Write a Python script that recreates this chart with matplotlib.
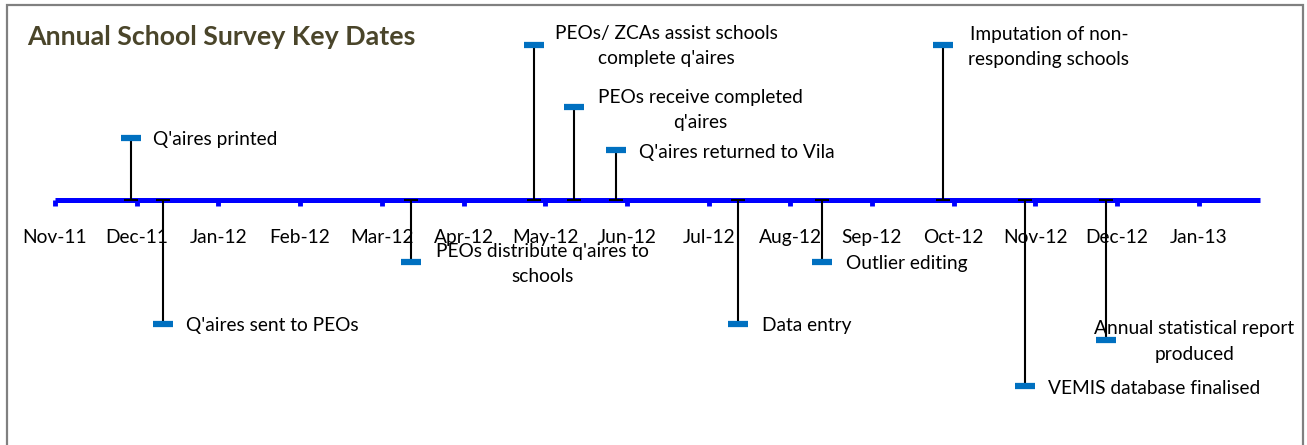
import numpy as np
import matplotlib.pyplot as plt
from matplotlib.patches import Rectangle
import datetime as dt
import calendar

plt.rcParams['font.family'] = ['Lato', 'DejaVu Sans']

# month ticks on the timeline
months = ['Nov-11', 'Dec-11', 'Jan-12', 'Feb-12', 'Mar-12', 'Apr-12', 'May-12',
          'Jun-12', 'Jul-12', 'Aug-12', 'Sep-12', 'Oct-12', 'Nov-12', 'Dec-12', 'Jan-13']

# key events
events = ["Q'aires printed", "Q'aires sent to PEOs", "PEOs distribute q'aires to\nschools",
          "PEOs/ ZCAs assist schools\ncomplete q'aires", "PEOs receive completed\nq'aires",
          "Q'aires returned to Vila", "Data entry", "Outlier editing",
          "Imputation of non-\nresponding schools", "VEMIS database finalised",
          "Annual statistical report\nproduced"]
dates = ['2011-11-29', '2011-12-11', '2012-03-12', '2012-04-27', '2012-05-12',
         '2012-05-28', '2012-07-12', '2012-08-13', '2012-09-27', '2012-10-28', '2012-11-27']
heights = [20, -40, -20, 50, 30, 16, -40, -20, 50, -60, -45]

# label placement: (dx px, dy px, horizontal alignment)
label_pos = [(22, -2, 'left'), (23, -2, 'left'), (132, -2, 'center'), (132, -1, 'center'),
             (126, -3, 'center'), (23, -2, 'left'), (24, -2, 'left'), (24, -2, 'left'),
             (106, -2, 'center'), (23, -2, 'left'), (88, -2, 'center')]


def month_pos(s):
    # months since Nov 2011, each month the same width
    d = dt.date.fromisoformat(s)
    ndays = calendar.monthrange(d.year, d.month)[1]
    return (d.year - 2011) * 12 + d.month - 11 + (d.day - 1) / ndays


x = np.array([month_pos(s) for s in dates])
y = np.array(heights, dtype=float)

W, H = 1307, 445
fig = plt.figure(figsize=(W / 100, H / 100), dpi=100)

# axes placed so month 0 sits at x=55px and the timeline at y=200px
px_month, px_unit = 81.7, 3.1
left, right, top, bottom = 55, 1260, 20, 430
ax = fig.add_axes([left / W, 1 - bottom / H, (right - left) / W, (bottom - top) / H])
ax.set_xlim(0, (right - left) / px_month)
ax.set_ylim(-(bottom - 200) / px_unit, (200 - top) / px_unit)

for s in ['top', 'left', 'right']:
    ax.spines[s].set_visible(False)
ax.spines['bottom'].set_position(('data', 0))
ax.spines['bottom'].set_color('#0000FF')
ax.spines['bottom'].set_linewidth(3.6)
ax.spines['bottom'].set_capstyle('butt')
ax.set_yticks([])
ax.set_xticks(np.arange(len(months)))
ax.set_xticklabels(months, fontsize=13.8)
ax.tick_params(axis='x', direction='out', length=4.5, width=3.5, color='#0000FF', pad=16.5)

# stems with a cap on the timeline, then the dash markers
ax.vlines(x, 0, y, color='black', lw=1.5, zorder=3)
ax.plot(x, np.zeros_like(x), ls='none', marker='_', ms=10, mew=1.5, color='black', zorder=4)
ax.plot(x, y, ls='none', marker='_', ms=14, mew=4.5, color='#0070C0', zorder=5,
        solid_capstyle='round')

for xi, yi, txt, (dx, dy, ha) in zip(x, y, events, label_pos):
    ax.annotate(txt, (xi, yi), xytext=(dx, dy), textcoords='offset pixels',
                ha=ha, va='center', fontsize=13.8, multialignment='center',
                linespacing=1.6, zorder=6)

fig.text(27 / W, 1 - 37 / H, 'Annual School Survey Key Dates', fontsize=19.3,
         fontweight='bold', color='#4A452A', va='center', ha='left')

# chart frame
fig.patches.append(Rectangle((7 / W, -0.1), 1296 / W, 1.1 - 5 / H, transform=fig.transFigure,
                             fill=False, ec='#808080', lw=1.6))

fig.savefig('out.png', dpi=100)
